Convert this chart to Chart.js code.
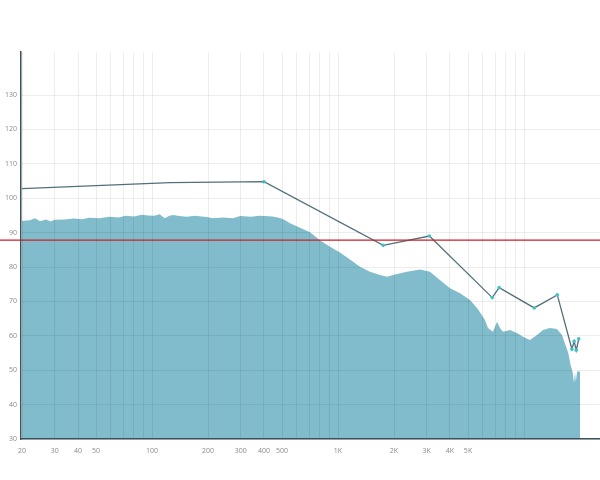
<!DOCTYPE html>
<html lang="zh-CN">
<head>
    <meta charset="UTF-8">
    <title>频响曲线</title>
    <script src="https://cdn.jsdelivr.net/npm/chart.js"></script>
    <style>
        html, body { margin: 0; padding: 0; background: #fff; }
        #wrap { width: 600px; height: 480px; }
    </style>
</head>
<body>
    <div id="wrap">
        <canvas id="myChart" width="600" height="480"></canvas>
    </div>

    <script>
        // Área (espectro) - frequência / nível
        const areaFreqs = [20, 22, 23.5, 25, 27, 28.5, 30, 34, 38, 42, 46, 52, 59, 66, 72, 80, 88, 95, 103, 110,
            117, 124, 130, 140, 154, 170, 196, 213, 240, 272, 298, 340, 380, 445, 492, 520, 552, 625, 707, 800,
            905, 1025, 1160, 1312, 1485, 1680, 1835, 2075, 2350, 2760, 3120, 3530, 4000, 4530, 5125, 5655, 6170,
            6400, 6810, 7160, 7430, 7710, 8410, 9160, 9880, 10760, 11740, 12650, 13800, 15030, 16000, 17300,
            17800, 18300, 18560, 18800, 19000, 19300, 20000];
        const areaLevels = [93.4, 93.6, 94.2, 93.3, 93.8, 93.2, 93.7, 93.8, 94.1, 93.9, 94.3, 94.2, 94.6, 94.4, 94.9, 94.7, 95.2, 95.0, 94.9, 95.3,
            94.2, 94.9, 95.1, 94.8, 94.6, 94.9, 94.5, 94.2, 94.4, 94.2, 94.8, 94.6, 94.9, 94.7, 94.2, 93.6, 92.7, 91.4, 90.1, 87.8,
            85.9, 84.2, 82.2, 80.1, 78.6, 77.7, 77.2, 78.0, 78.6, 79.3, 78.6, 76.2, 73.8, 72.4, 70.4, 67.7, 64.6,
            62.3, 61.2, 64.1, 62.3, 61.2, 61.7, 60.8, 59.7, 58.8, 60.2, 61.7, 62.3, 62.0, 60.2, 55.0,
            51.5, 49.2, 46.3, 49.3, 46.7, 49.6, 49.6];

        // Linha com marcadores
        const lineFreqs = [20, 125, 400, 1750, 3100, 6750, 7350, 11350, 15100, 18100, 18600, 19100, 19700];
        const lineLevels = [102.8, 104.5, 104.8, 86.3, 89.0, 71.1, 74.0, 68.1, 71.9, 56.1, 58.4, 55.8, 59.1];

        // Linha de referência vermelha
        const redLevel = 87.8;

        // Eixos
        const gridFreqs = [20, 30, 40, 50, 60, 70, 80, 90, 100, 200, 300, 400, 500, 600, 700, 800, 900,
            1000, 2000, 3000, 4000, 5000, 6000, 7000, 8000, 9000, 10000];
        const labeledFreqs = [20, 30, 40, 50, 100, 200, 300, 400, 500, 1000, 2000, 3000, 4000, 5000];
        const yTicks = [30, 40, 50, 60, 70, 80, 90, 100, 110, 120, 130];

        Chart.defaults.font.family = "'Open Sans', sans-serif";
        Chart.defaults.font.size = 7;
        Chart.defaults.color = '#8a8a8a';

        // Linha vermelha atravessando toda a largura
        const redLinePlugin = {
            id: 'redLine',
            afterDatasetsDraw(chart) {
                const c = chart.ctx;
                const y = chart.scales.y.getPixelForValue(redLevel);
                c.save();
                c.strokeStyle = '#cc1f24';
                c.lineWidth = 1.2;
                c.beginPath();
                c.moveTo(0, y);
                c.lineTo(chart.width, y);
                c.stroke();
                c.restore();
            }
        };

        const ctx = document.getElementById('myChart').getContext('2d');
        const myChart = new Chart(ctx, {
            type: 'line',
            data: {
                datasets: [{
                    data: lineFreqs.map((f, i) => ({ x: f, y: lineLevels[i] })),
                    borderColor: '#52707b',
                    borderWidth: 1.3,
                    pointRadius: c => c.dataIndex < 2 ? 0 : 1.8,
                    pointBackgroundColor: '#40c2c9',
                    pointBorderWidth: 0,
                    fill: false,
                    tension: 0
                }, {
                    data: areaFreqs.map((f, i) => ({ x: f, y: areaLevels[i] })),
                    backgroundColor: '#80bccb',
                    borderWidth: 0,
                    pointRadius: 0,
                    fill: 'start',
                    tension: 0
                }]
            },
            options: {
                responsive: false,
                animation: false,
                layout: { autoPadding: false, padding: { top: 52, left: 0, right: 0, bottom: 0 } },
                plugins: { legend: { display: false }, tooltip: { enabled: false } },
                scales: {
                    x: {
                        type: 'logarithmic',
                        min: 19.75,
                        max: 25620,
                        afterBuildTicks: s => { s.ticks = gridFreqs.map(v => ({ value: v })); },
                        afterFit: s => { s.height = 41; s.paddingLeft = 0; s.paddingRight = 0; },
                        grid: { color: 'rgba(0,0,0,0.07)', drawTicks: false, z: 1 },
                        border: { display: true, color: '#3c525b', width: 1.5, z: 2 },
                        ticks: {
                            autoSkip: false,
                            maxRotation: 0,
                            padding: 8,
                            callback: v => labeledFreqs.includes(v) ? (v >= 1000 ? (v / 1000) + 'K' : String(v)) : ''
                        }
                    },
                    y: {
                        min: 30,
                        max: 142.5,
                        afterBuildTicks: s => { s.ticks = yTicks.map(v => ({ value: v })); },
                        afterFit: s => { s.width = 21; },
                        grid: { color: 'rgba(0,0,0,0.07)', drawTicks: false, z: 1 },
                        border: { display: true, color: '#3c525b', width: 1.5, z: 2 },
                        ticks: { padding: 4 }
                    }
                }
            },
            plugins: [redLinePlugin]
        });
    </script>
</body>
</html>
